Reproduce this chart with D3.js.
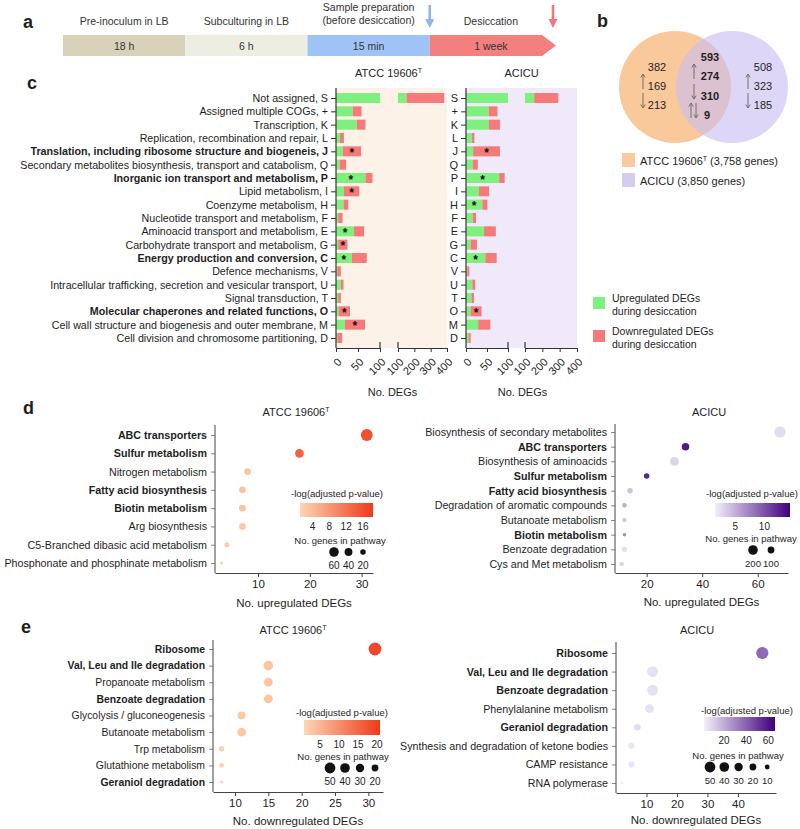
<!DOCTYPE html>
<html lang="en">
<head>
<meta charset="UTF-8">
<title>Desiccation DEGs</title>
<style>
  body { margin: 0; background: #fff; }
  svg { font-family: "Liberation Sans", Arial, Helvetica, sans-serif; }
</style>
</head>
<body>
<svg width="800" height="829"></svg>
<script src="https://d3js.org/d3.v7.min.js"></script>
<script>
// ---------- data ----------
// a: experiment timeline
var stageNames = ["Pre-inoculum in LB", "Subculturing in LB", "Sample preparation|(before desiccation)", "Desiccation"];
var stageTimes = ["18 h", "6 h", "15 min", "1 week"];

// b: venn counts  [total, up, down, (up+down)]
var vennAtccOnly = [382, 169, 213];
var vennShared = [593, 274, 310, 9];
var vennAcicuOnly = [508, 323, 185];
var strainGenes = ["3,758", "3,850"];

// c: COG categories
var cogCodes = ["S", "+", "K", "L", "J", "Q", "P", "I", "H", "F", "E", "G", "C", "V", "U", "T", "O", "M", "D"];
var cogNames = ["Not assigned, S", "Assigned multiple COGs, +", "Transcription, K",
  "Replication, recombination and repair, L", "Translation, including ribosome structure and biogeneis, J",
  "Secondary metabolites biosynthesis, transport and catabolism, Q", "Inorganic ion transport and metabolism, P",
  "Lipid metabolism, I", "Coenzyme metabolism, H", "Nucleotide transport and metabolism, F",
  "Aminoacid transport and metabolism, E", "Carbohydrate transport and metabolism, G",
  "Energy production and conversion, C", "Defence mechanisms, V",
  "Intracellular trafficking, secretion and vesicular transport, U", "Signal transduction, T",
  "Molecular chaperones and related functions, O", "Cell wall structure and biogenesis and outer membrane, M",
  "Cell division and chromosome partitioning, D"];
var highlightedCogs = ["J", "P", "C", "O"];
var atccUp   = [152, 38, 47, 9, 15, 8, 67, 18, 17, 5, 41, 5, 36, 3, 11, 5, 6, 20, 3];
var atccDown = [231, 20, 20, 9, 42, 15, 16, 35, 11, 10, 23, 21, 34, 8, 6, 6, 26, 46, 11];
var atccSig  = ["", "", "", "", "down", "", "up", "down", "", "", "up", "down", "up", "", "", "", "down", "down", ""];
var acicuUp   = [153, 54, 54, 14, 17, 16, 79, 31, 39, 16, 43, 11, 46, 3, 15, 13, 11, 29, 6];
var acicuDown = [139, 21, 27, 6, 64, 12, 13, 24, 12, 8, 28, 15, 27, 5, 7, 6, 26, 29, 5];
var acicuSig  = ["", "", "", "", "down", "", "up", "", "up", "", "", "", "up", "", "", "", "down", "", ""];
var cogTicksLow = [0, 50, 100];
var cogTicksHigh = [100, 200, 300, 400];

// d: KEGG pathways, upregulated
var atccUpPaths = ["ABC transporters", "Sulfur metabolism", "Nitrogen metabolism", "Fatty acid biosynthesis",
  "Biotin metabolism", "Arg biosynthesis", "C5-Branched dibasic acid metabolism", "Phosphonate and phosphinate metabolism"];
var atccUpCount = [31, 18, 8, 7, 7, 7, 4, 3];
var atccUpLogP  = [16, 14, 3, 3, 3, 2.5, 2, 1.5];
var atccUpGenes = [90, 50, 30, 30, 30, 30, 17, 6];
var atccUpBold  = ["ABC transporters", "Sulfur metabolism", "Fatty acid biosynthesis", "Biotin metabolism"];

var acicuUpPaths = ["Biosynthesis of secondary metabolites", "ABC transporters", "Biosynthesis of aminoacids",
  "Sulfur metabolism", "Fatty acid biosynthesis", "Degradation of aromatic compounds", "Butanoate metabolism",
  "Biotin metabolism", "Benzoate degradation", "Cys and Met metabolism"];
var acicuUpCount = [68, 34, 30, 20, 14, 12, 12, 12, 12, 11];
var acicuUpLogP  = [2.5, 13, 3, 12.5, 4, 5, 3.5, 7, 2.5, 3];
var acicuUpGenes = [290, 124, 170, 66, 66, 48, 48, 26, 57, 48];
var acicuUpBold  = ["ABC transporters", "Sulfur metabolism", "Fatty acid biosynthesis", "Biotin metabolism"];

// e: KEGG pathways, downregulated
var atccDownPaths = ["Ribosome", "Val, Leu and Ile degradation", "Propanoate metabolism", "Benzoate degradation",
  "Glycolysis / gluconeogenesis", "Butanoate metabolism", "Trp metabolism", "Glutathione metabolism", "Geraniol degradation"];
var atccDownCount = [31, 15, 15, 15, 11, 11, 8, 8, 8];
var atccDownLogP  = [19, 3, 3, 3, 2.5, 2.5, 1.5, 1.5, 1.5];
var atccDownGenes = [70, 39, 33, 33, 28, 33, 13, 9, 4];
var atccDownBold  = ["Ribosome", "Val, Leu and Ile degradation", "Benzoate degradation", "Geraniol degradation"];

var acicuDownPaths = ["Ribosome", "Val, Leu and Ile degradation", "Benzoate degradation", "Phenylalanine metabolism",
  "Geraniol degradation", "Synthesis and degradation of ketone bodies", "CAMP resistance", "RNA polymerase"];
var acicuDownCount = [48, 12, 12, 11, 7, 5, 5, 2];
var acicuDownLogP  = [38, 6, 6, 6, 7, 5, 5, 3];
var acicuDownGenes = [64, 50, 50, 33, 19, 16, 16, 3];
var acicuDownBold  = ["Ribosome", "Val, Leu and Ile degradation", "Benzoate degradation", "Geraniol degradation"];

// ---------- drawing ----------
var svg = d3.select("svg");
var ink = "#1e1e1e";
var upColor = "#7ef07e", downColor = "#f67a7a";

function letter(ch, x, y) {
  svg.append("text").attr("x", x).attr("y", y).attr("font-size", 18).attr("font-weight", "bold")
    .attr("fill", ink).text(ch);
}
function strainTitle(x, y, name, sup) {
  var t = svg.append("text").attr("x", x).attr("y", y).attr("text-anchor", "middle")
    .attr("font-size", 11).attr("fill", ink);
  t.append("tspan").text(name);
  if (sup) t.append("tspan").attr("font-size", 7).attr("dy", -4).text(sup);
}

letter("a", 23, 28);
letter("b", 597, 27);
letter("c", 27, 89);
letter("d", 23, 414);
letter("e", 21, 633);

// ---- a: timeline ----
var stageX = d3.scaleBand().domain(stageNames).range([63, 552]);
var stageFill = ["#d8d2bb", "#eeede2", "#9fc3f6", "#f47f7f"];
var ga = svg.append("g");
ga.selectAll("path").data(stageNames).enter().append("path")
  .attr("d", function(d, i) {
    var x0 = stageX(d), x1 = x0 + stageX.bandwidth();
    if (i === stageNames.length - 1)
      return "M" + x0 + ",35H" + (x1 - 10) + "L" + (x1 + 4) + ",45.5L" + (x1 - 10) + ",56H" + x0 + "Z";
    return "M" + x0 + ",35H" + x1 + "V56H" + x0 + "Z";
  })
  .attr("fill", function(d, i) { return stageFill[i]; });
ga.selectAll("text.time").data(stageTimes).enter().append("text")
  .attr("x", function(d, i) { return stageX(stageNames[i]) + stageX.bandwidth() / 2; })
  .attr("y", 50).attr("text-anchor", "middle").attr("font-size", 10.5).attr("fill", "#333")
  .text(function(d) { return d; });
ga.selectAll("text.stage").data(stageNames).enter().append("text")
  .attr("x", function(d) { return stageX(d) + stageX.bandwidth() / 2; })
  .attr("text-anchor", "middle").attr("font-size", 10.5).attr("fill", "#333")
  .each(function(d) {
    var lines = d.split("|");
    var t = d3.select(this).attr("y", lines.length > 1 ? 11 : 25);
    lines.forEach(function(l, k) {
      t.append("tspan").attr("x", t.attr("x")).attr("dy", k ? 13 : 0).text(l);
    });
  });
// sampling arrows
function sampleArrow(x, col) {
  ga.append("path")
    .attr("d", "M" + (x - 1.3) + ",5V19H" + (x - 4.5) + "L" + x + ",28L" + (x + 4.5) + ",19H" + (x + 1.3) + "V5Z")
    .attr("fill", col);
}
sampleArrow(stageX(stageNames[3]), "#8fb5ec");
sampleArrow(stageX(stageNames[3]) + stageX.bandwidth() + 1, "#f2777c");

// ---- b: venn ----
var gb = svg.append("g");
gb.append("circle").attr("cx", 675).attr("cy", 87).attr("r", 56).attr("fill", "#f9c99c");
gb.append("circle").attr("cx", 732).attr("cy", 87).attr("r", 56).attr("fill", "#c9bdf0").attr("opacity", 0.62);

function thinArrow(x, y, dir) {
  // y = vertical centre of the number line
  var top = y - 12, bot = y + 3;
  var p = dir === "up"
    ? "M" + x + "," + bot + "V" + top + "M" + (x - 2.2) + "," + (top + 3.5) + "L" + x + "," + top + "L" + (x + 2.2) + "," + (top + 3.5)
    : "M" + x + "," + top + "V" + bot + "M" + (x - 2.2) + "," + (bot - 3.5) + "L" + x + "," + bot + "L" + (x + 2.2) + "," + (bot - 3.5);
  gb.append("path").attr("d", p).attr("fill", "none").attr("stroke", "#666").attr("stroke-width", 0.9);
}
function vennColumn(vals, cx, ax, ys, bold) {
  vals.forEach(function(v, i) {
    if (i === 3) return;
    gb.append("text").attr("x", cx).attr("y", ys[i]).attr("text-anchor", "middle")
      .attr("font-size", 11).attr("font-weight", bold ? "bold" : null).attr("fill", ink).text(v);
    if (i === 1) thinArrow(ax, ys[i] - 4, "up");
    if (i === 2) thinArrow(ax, ys[i] - 4, "down");
  });
}
var vennY = [71, 90, 109, 128];
vennColumn(vennAtccOnly, 657, 643, vennY);
vennColumn(vennAcicuOnly, 763, 748, vennY);
vennColumn(vennShared, 710, 694, [61, 80, 100], true);
gb.append("text").attr("x", 704).attr("y", 119).attr("font-size", 11).attr("font-weight", "bold")
  .attr("fill", ink).text(vennShared[3]);
thinArrow(691, 115, "up");
thinArrow(696, 115, "down");

// legend of b
var gbl = gb.append("g");
gbl.append("rect").attr("x", 622).attr("y", 153).attr("width", 13).attr("height", 14).attr("fill", "#f9cba0");
gbl.append("rect").attr("x", 622).attr("y", 173).attr("width", 13).attr("height", 14).attr("fill", "#d5cdee");
var lt = gbl.append("text").attr("x", 640).attr("y", 165).attr("font-size", 11).attr("fill", ink);
lt.append("tspan").text("ATCC 19606");
lt.append("tspan").attr("font-size", 7).attr("dy", -4).text("T");
lt.append("tspan").attr("dy", 4).text(" (" + strainGenes[0] + " genes)");
gbl.append("text").attr("x", 640).attr("y", 185).attr("font-size", 11).attr("fill", ink)
  .text("ACICU (" + strainGenes[1] + " genes)");

// ---- c: COG bars with broken axis ----
var cTop = 88, cBottom = 348;
var cRows = d3.scalePoint().domain(cogCodes).range([98, 338]);
var barH = 10;
var strains = [
  { name: "ATCC 19606", sup: "T", up: atccUp, down: atccDown, sig: atccSig, x0: 336, x1: 380, x2: 398, x3: 447, bg: "#fdf2e8", full: true },
  { name: "ACICU", sup: "", up: acicuUp, down: acicuDown, sig: acicuSig, x0: 466, x1: 508, x2: 525, x3: 577, bg: "#efe9fa", full: false }
];

strains.forEach(function(s) {
  var g = svg.append("g");
  var xa = d3.scaleLinear().domain([0, 100]).range([s.x0, s.x1]);
  var xb = d3.scaleLinear().domain([100, 400]).range([s.x2, s.x3]);
  var bx = function(v) { return v <= 100 ? xa(v) : xb(v); };

  g.append("rect").attr("x", s.x0).attr("y", cTop).attr("width", s.x3 - s.x0)
    .attr("height", cBottom - cTop).attr("fill", s.bg);

  // stacked up/down segments, split at the axis break
  var pieces = [];
  cogCodes.forEach(function(c, i) {
    [[0, s.up[i], upColor], [s.up[i], s.up[i] + s.down[i], downColor]].forEach(function(sg) {
      var a = sg[0], b = sg[1];
      if (a < 100) pieces.push({ code: c, x: xa(a), w: xa(Math.min(b, 100)) - xa(a), col: sg[2] });
      if (b > 100) pieces.push({ code: c, x: xb(Math.max(a, 100)), w: xb(b) - xb(Math.max(a, 100)), col: sg[2] });
    });
  });
  g.selectAll("rect.bar").data(pieces).enter().append("rect")
    .attr("class", "bar")
    .attr("x", function(d) { return d.x; })
    .attr("y", function(d) { return cRows(d.code) - barH / 2; })
    .attr("width", function(d) { return d.w; })
    .attr("height", barH)
    .attr("fill", function(d) { return d.col; });

  // significance stars
  var stars = cogCodes.map(function(c, i) {
    if (!s.sig[i]) return null;
    var a = s.sig[i] === "up" ? 0 : s.up[i];
    var b = s.sig[i] === "up" ? s.up[i] : s.up[i] + s.down[i];
    return { code: c, x: (bx(a) + bx(b)) / 2 };
  }).filter(Boolean);
  g.selectAll("text.star").data(stars).enter().append("text")
    .attr("x", function(d) { return d.x; })
    .attr("y", function(d) { return cRows(d.code) + 5.5; })
    .attr("text-anchor", "middle").attr("font-size", 12).attr("font-weight", "bold").attr("fill", "#111")
    .text("*");

  // axes
  var ax1 = g.append("g").attr("transform", "translate(0," + cBottom + ")")
    .call(d3.axisBottom(xa).tickValues(cogTicksLow).tickSize(4).tickSizeOuter(0));
  var ax2 = g.append("g").attr("transform", "translate(0," + cBottom + ")")
    .call(d3.axisBottom(xb).tickValues(cogTicksHigh).tickSize(4).tickSizeOuter(0));
  [ax1, ax2].forEach(function(ax) {
    ax.attr("font-family", null).attr("font-size", 11);
    ax.select(".domain").attr("stroke", "#333").attr("stroke-width", 1.2);
    ax.selectAll(".tick line").attr("stroke", "#333");
    ax.selectAll(".tick text").attr("fill", ink)
      .attr("y", 0).attr("dy", "0.35em")
      .attr("text-anchor", "end")
      .attr("transform", "translate(3,12) rotate(-45)");
  });
  // end caps at the break
  [xa(100), xb(100)].forEach(function(x) {
    g.append("line").attr("x1", x).attr("x2", x).attr("y1", cBottom - 6).attr("y2", cBottom)
      .attr("stroke", "#333").attr("stroke-width", 1.2);
  });

  var yAx = g.append("g").attr("transform", "translate(" + s.x0 + ",0)")
    .call(d3.axisLeft(cRows).tickSize(5).tickPadding(3).tickSizeOuter(0)
      .tickFormat(function(d, i) { return s.full ? cogNames[cogCodes.indexOf(d)] : d; }));
  yAx.attr("font-family", null).attr("font-size", s.full ? 10.7 : 11);
  yAx.select(".domain").remove();
  yAx.selectAll(".tick line").attr("stroke", "#333");
  yAx.selectAll(".tick text").attr("fill", ink)
    .attr("font-weight", function(d) { return s.full && highlightedCogs.indexOf(d) >= 0 ? "bold" : null; });
  g.append("line").attr("x1", s.x0).attr("x2", s.x0).attr("y1", cTop).attr("y2", cBottom)
    .attr("stroke", "#333").attr("stroke-width", 1.2);

  strainTitle((s.x0 + s.x3) / 2 + (s.full ? -3 : 0), 77, s.name, s.sup);
  g.append("text").attr("x", (s.x0 + s.x3) / 2 + 1).attr("y", 396).attr("text-anchor", "middle")
    .attr("font-size", 11).attr("fill", ink).text("No. DEGs");
});

// legend of c
var gcl = svg.append("g").attr("font-size", 10.5).attr("fill", ink);
[[upColor, "Upregulated DEGs", 297], [downColor, "Downregulated DEGs", 330]].forEach(function(l) {
  gcl.append("rect").attr("x", 593).attr("y", l[2]).attr("width", 12).attr("height", 12).attr("fill", l[0]);
  gcl.append("text").attr("x", 612).attr("y", l[2] + 5).text(l[1]);
  gcl.append("text").attr("x", 612).attr("y", l[2] + 18).text("during desiccation");
});

// ---- d/e: bubble plots ----
function dotPanel(cfg) {
  var g = svg.append("g");
  var x = d3.scaleLinear().domain(cfg.xDomain).range([cfg.left, cfg.right]);
  var y = d3.scalePoint().domain(cfg.names).range([cfg.firstRow, cfg.lastRow]);
  var r = d3.scaleSqrt().domain([0, cfg.sizeRef]).range([0, cfg.sizeRefR]);
  var col = d3.scaleLinear().domain(cfg.colorDomain).range(cfg.colors).interpolate(d3.interpolateRgb);

  // x axis
  var xa = g.append("g").attr("transform", "translate(0," + cfg.bottom + ")")
    .call(d3.axisBottom(x).tickValues(cfg.ticks).tickSize(4).tickSizeOuter(0));
  xa.attr("font-family", null).attr("font-size", 11.5);
  xa.select(".domain").attr("stroke", "#444");
  xa.selectAll(".tick line").attr("stroke", "#444");
  xa.selectAll(".tick text").attr("fill", ink);
  // y axis
  var ya = g.append("g").attr("transform", "translate(" + cfg.left + ",0)")
    .call(d3.axisLeft(y).tickSize(4).tickPadding(4).tickSizeOuter(0));
  ya.attr("font-family", null).attr("font-size", cfg.labelSize);
  ya.select(".domain").remove();
  ya.selectAll(".tick line").attr("stroke", "#888");
  ya.selectAll(".tick text").attr("fill", ink)
    .attr("font-weight", function(d) { return cfg.bold.indexOf(d) >= 0 ? "bold" : null; });
  g.append("line").attr("x1", cfg.left).attr("x2", cfg.left).attr("y1", cfg.top).attr("y2", cfg.bottom)
    .attr("stroke", "#444");

  // bubbles
  var pts = cfg.names.map(function(n, i) {
    return { name: n, count: cfg.count[i], logp: cfg.logp[i], genes: cfg.genes[i] };
  });
  g.selectAll("circle.pt").data(pts).enter().append("circle")
    .attr("cx", function(d) { return x(d.count); })
    .attr("cy", function(d) { return y(d.name); })
    .attr("r", function(d) { return r(d.genes); })
    .attr("fill", function(d) { return col(d.logp); });

  g.append("text").attr("x", (cfg.left + cfg.right) / 2).attr("y", cfg.axisTitleY).attr("text-anchor", "middle")
    .attr("font-size", 11.5).attr("fill", ink).text(cfg.xLabel);
  strainTitle(cfg.titleX, cfg.titleY, cfg.strain, cfg.sup);

  // colour legend
  var L = cfg.legend;
  var gid = "grad" + cfg.id;
  var grad = svg.append("defs").append("linearGradient").attr("id", gid);
  grad.append("stop").attr("offset", "0%").attr("stop-color", cfg.colors[0]);
  grad.append("stop").attr("offset", "100%").attr("stop-color", cfg.colors[1]);
  g.append("text").attr("x", L.titleX).attr("y", L.titleY).attr("text-anchor", "middle")
    .attr("font-size", 9.5).attr("fill", ink).text("-log(adjusted p-value)");
  g.append("rect").attr("x", L.gx0).attr("y", L.gy).attr("width", L.gx1 - L.gx0).attr("height", L.gh)
    .attr("fill", "url(#" + gid + ")");
  var lx = d3.scaleLinear().domain(cfg.colorDomain).range([L.gx0, L.gx1]);
  g.selectAll("text.ctick").data(cfg.colorTicks).enter().append("text")
    .attr("x", function(d) { return lx(d); }).attr("y", L.gy + L.gh + 13)
    .attr("text-anchor", "middle").attr("font-size", 10).attr("fill", ink)
    .text(function(d) { return d; });

  // size legend
  g.append("text").attr("x", L.sTitleX).attr("y", L.sTitleY).attr("text-anchor", "middle")
    .attr("font-size", 9.5).attr("fill", ink).text("No. genes in pathway");
  g.selectAll("circle.sz").data(cfg.sizeTicks).enter().append("circle")
    .attr("cx", function(d, i) { return L.sx0 + i * L.sstep; })
    .attr("cy", L.sy).attr("r", function(d) { return r(d); }).attr("fill", "#111");
  g.selectAll("text.sz").data(cfg.sizeTicks).enter().append("text")
    .attr("x", function(d, i) { return L.sx0 + i * L.sstep; })
    .attr("y", L.sy + 17).attr("text-anchor", "middle").attr("font-size", L.sFont || 10).attr("fill", ink)
    .text(function(d) { return d; });
}

var orangeRamp = ["#fdd6b4", "#ef3a1a"];
var purpleRamp = ["#f3f0fa", "#3f007d"];

dotPanel({
  id: "dA", names: atccUpPaths, count: atccUpCount, logp: atccUpLogP, genes: atccUpGenes, bold: atccUpBold,
  xDomain: [1.7, 32.2], left: 215, right: 373, top: 425, bottom: 573, firstRow: 435, lastRow: 563,
  ticks: [10, 20, 30], xLabel: "No. upregulated DEGs", axisTitleY: 607, labelSize: 10.7,
  strain: "ATCC 19606", sup: "T", titleX: 296, titleY: 416,
  sizeRef: 60, sizeRefR: 4.8, colorDomain: [1, 18.4], colors: orangeRamp,
  colorTicks: [4, 8, 12, 16], sizeTicks: [60, 40, 20],
  legend: { titleX: 337, titleY: 497, gx0: 300, gx1: 373, gy: 503, gh: 14,
    sTitleX: 340, sTitleY: 544, sx0: 334, sstep: 14.5, sy: 552 }
});
dotPanel({
  id: "dB", names: acicuUpPaths, count: acicuUpCount, logp: acicuUpLogP, genes: acicuUpGenes, bold: acicuUpBold,
  xDomain: [8.6, 70.9], left: 615, right: 788, top: 424, bottom: 573, firstRow: 432, lastRow: 564,
  ticks: [20, 40, 60], xLabel: "No. upregulated DEGs", axisTitleY: 606, labelSize: 10.7,
  strain: "ACICU", sup: "", titleX: 709, titleY: 416,
  sizeRef: 200, sizeRefR: 4.8, colorDomain: [1.5, 14.4], colors: purpleRamp,
  colorTicks: [5, 10], sizeTicks: [200, 100],
  legend: { titleX: 752, titleY: 497, gx0: 715, gx1: 790, gy: 503, gh: 14,
    sTitleX: 751, sTitleY: 542, sx0: 753, sstep: 18, sy: 550, sFont: 9.5 }
});
dotPanel({
  id: "eA", names: atccDownPaths, count: atccDownCount, logp: atccDownLogP, genes: atccDownGenes, bold: atccDownBold,
  xDomain: [6.7, 32.2], left: 213, right: 383, top: 640, bottom: 792, firstRow: 649, lastRow: 782,
  ticks: [10, 15, 20, 25, 30], xLabel: "No. downregulated DEGs", axisTitleY: 825, labelSize: 10.4,
  strain: "ATCC 19606", sup: "T", titleX: 293, titleY: 634,
  sizeRef: 50, sizeRefR: 5.4, colorDomain: [0.8, 20.8], colors: orangeRamp,
  colorTicks: [5, 10, 15, 20], sizeTicks: [50, 40, 30, 20],
  legend: { titleX: 342, titleY: 716, gx0: 304, gx1: 380, gy: 720, gh: 15,
    sTitleX: 343, sTitleY: 760, sx0: 330, sstep: 15, sy: 768 }
});
dotPanel({
  id: "eB", names: acicuDownPaths, count: acicuDownCount, logp: acicuDownLogP, genes: acicuDownGenes, bold: acicuDownBold,
  xDomain: [0, 52.5], left: 616, right: 776, top: 642, bottom: 793, firstRow: 653, lastRow: 783,
  ticks: [10, 20, 30, 40], xLabel: "No. downregulated DEGs", axisTitleY: 824, labelSize: 10.7,
  strain: "ACICU", sup: "", titleX: 697, titleY: 634,
  sizeRef: 50, sizeRefR: 5.4, colorDomain: [1.8, 66], colors: purpleRamp,
  colorTicks: [20, 40, 60], sizeTicks: [50, 40, 30, 20, 10],
  legend: { titleX: 747, titleY: 714, gx0: 704, gx1: 775, gy: 717, gh: 14,
    sTitleX: 738, sTitleY: 759, sx0: 710, sstep: 14.3, sy: 767, sFont: 9.5 }
});
</script>
</body>
</html>
